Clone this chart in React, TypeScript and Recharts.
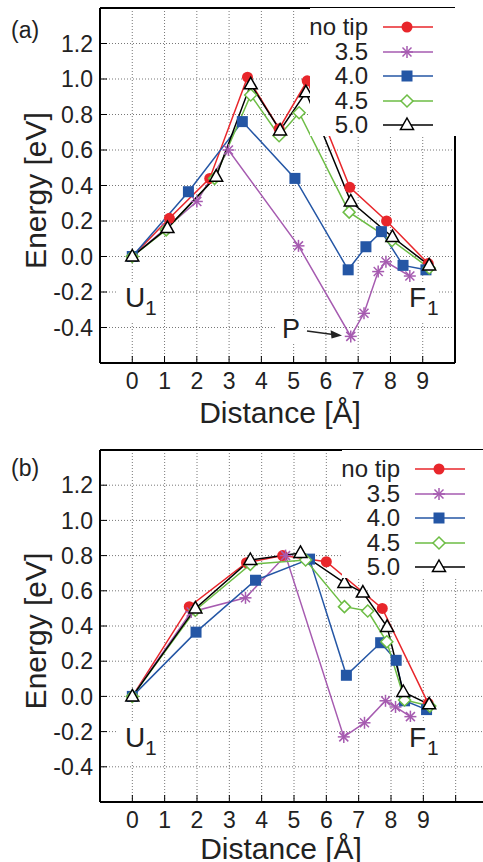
import React from 'react';
import { LineChart, Line, XAxis, YAxis, CartesianGrid, Legend, Label } from 'recharts';

const FONT = '"Liberation Sans", Arial, Helvetica, sans-serif';
const INK = '#222';

const seriesNames = ['no tip', '3.5', '4.0', '4.5', '5.0'];
const seriesColors = ['#e8262b', '#a65bb0', '#2456a5', '#6dbd45', '#000000'];
const seriesMarkers = ['circle', 'star', 'square', 'diamond', 'triangle'];

const yTicks = [-0.4, -0.2, 0, 0.2, 0.4, 0.6, 0.8, 1.0, 1.2];
const xTicksA = [0, 1, 2, 3, 4, 5, 6, 7, 8, 9];
const xTicksB = [0, 1, 2, 3, 4, 5, 6, 7, 8, 9, 10];

// panel (a)
const aNoTipX = [0, 1.15, 2.4, 3.57, 4.55, 5.42, 6.74, 7.88, 9.17];
const aNoTipY = [0, 0.215, 0.44, 1.01, 0.72, 0.99, 0.39, 0.2, -0.04];
const a35X = [0, 1.05, 2.0, 2.98, 5.15, 6.77, 7.18, 7.62, 7.86, 8.6];
const a35Y = [0, 0.16, 0.31, 0.6, 0.06, -0.45, -0.32, -0.085, -0.03, -0.11];
const a40X = [0, 1.74, 3.41, 5.04, 6.69, 7.24, 7.72, 8.39, 9.1];
const a40Y = [0, 0.365, 0.76, 0.44, -0.075, 0.055, 0.14, -0.05, -0.075];
const a45X = [0, 1.05, 2.55, 3.67, 4.55, 5.17, 6.72, 8.05, 9.2];
const a45Y = [0, 0.15, 0.44, 0.91, 0.68, 0.81, 0.25, 0.09, -0.065];
const a50X = [0, 1.09, 2.6, 3.67, 4.58, 5.38, 6.77, 8.06, 9.2];
const a50Y = [0, 0.16, 0.45, 0.97, 0.71, 0.925, 0.31, 0.11, -0.05];

// panel (b)
const bNoTipX = [0, 1.76, 3.53, 4.65, 6.0, 7.73, 9.15];
const bNoTipY = [0, 0.51, 0.76, 0.8, 0.765, 0.5, -0.04];
const b35X = [0, 1.82, 3.5, 4.74, 6.54, 7.18, 7.83, 8.14, 8.6];
const b35Y = [0, 0.48, 0.56, 0.8, -0.23, -0.15, -0.025, -0.06, -0.115];
const b40X = [0, 1.97, 3.81, 5.48, 6.62, 7.68, 8.16, 8.42, 9.1];
const b40Y = [0, 0.365, 0.66, 0.78, 0.12, 0.305, 0.205, -0.025, -0.075];
const b45X = [0, 1.95, 3.65, 5.36, 6.56, 7.28, 7.87, 8.42, 9.2];
const b45Y = [0, 0.49, 0.75, 0.775, 0.51, 0.485, 0.31, -0.02, -0.055];
const b50X = [0, 1.95, 3.65, 5.2, 6.56, 7.13, 7.88, 8.38, 9.18];
const b50Y = [0, 0.5, 0.775, 0.815, 0.645, 0.59, 0.395, 0.025, -0.045];

const toPoints = (xs: number[], ys: number[]) => xs.map((x, i) => ({ x, y: ys[i] }));

const seriesA = [
  toPoints(aNoTipX, aNoTipY),
  toPoints(a35X, a35Y),
  toPoints(a40X, a40Y),
  toPoints(a45X, a45Y),
  toPoints(a50X, a50Y),
];
const seriesB = [
  toPoints(bNoTipX, bNoTipY),
  toPoints(b35X, b35Y),
  toPoints(b40X, b40Y),
  toPoints(b45X, b45Y),
  toPoints(b50X, b50Y),
];

function Marker({ kind, color, cx, cy }: { kind: string; color: string; cx: number; cy: number }) {
  if (cx == null || cy == null) return null;
  switch (kind) {
    case 'circle':
      return <circle cx={cx} cy={cy} r={5.5} fill={color} />;
    case 'square':
      return <rect x={cx - 5.5} y={cy - 5.5} width={11} height={11} fill={color} />;
    case 'diamond':
      return (
        <path
          d={`M${cx},${cy - 6}L${cx + 6},${cy}L${cx},${cy + 6}L${cx - 6},${cy}Z`}
          fill="#fff"
          stroke={color}
          strokeWidth={1.5}
        />
      );
    case 'triangle':
      return (
        <path
          d={`M${cx},${cy - 7}L${cx + 6.5},${cy + 4.5}L${cx - 6.5},${cy + 4.5}Z`}
          fill="#fff"
          stroke={color}
          strokeWidth={1.5}
        />
      );
    default:
      return (
        <g stroke={color} strokeWidth={1.5}>
          <line x1={cx - 6} y1={cy} x2={cx + 6} y2={cy} />
          <line x1={cx} y1={cy - 6} x2={cx} y2={cy + 6} />
          <line x1={cx - 4.5} y1={cy - 4.5} x2={cx + 4.5} y2={cy + 4.5} />
          <line x1={cx - 4.5} y1={cy + 4.5} x2={cx + 4.5} y2={cy - 4.5} />
        </g>
      );
  }
}

function LegendBox() {
  return (
    <div style={{ background: '#fff', width: 146, height: 128, paddingTop: 7, boxSizing: 'border-box', fontFamily: FONT }}>
      {seriesNames.map((name, i) => (
        <div key={name} style={{ display: 'flex', alignItems: 'center', height: 24.5, whiteSpace: 'nowrap' }}>
          <span
            style={{
              width: 58,
              flexShrink: 0,
              display: 'flex',
              justifyContent: 'flex-end',
              whiteSpace: 'nowrap',
              fontSize: 24,
              lineHeight: '24px',
              color: INK,
            }}
          >
            {name}
          </span>
          <svg width={70} height={24} style={{ display: 'block', flexShrink: 0 }}>
            <line x1={15} x2={65} y1={12} y2={12} stroke={seriesColors[i]} strokeWidth={1.5} />
            <Marker kind={seriesMarkers[i]} color={seriesColors[i]} cx={39} cy={12} />
          </svg>
        </div>
      ))}
    </div>
  );
}

interface PanelProps {
  series: { x: number; y: number }[][];
  xMax: number;
  xTicks: number[];
  width: number;
  height: number;
  marginRight: number;
  legendLeft: number;
  labelX: number;
  labelDy: number;
}

const Panel: React.FC<PanelProps> = ({ series, xMax, xTicks, width, height, marginRight, legendLeft, labelX, labelDy }) => {
  const axisLine = { stroke: '#000', strokeWidth: 2 };
  const tickLine = { stroke: '#000', strokeWidth: 1 };
  const tickStyle = { fontSize: 23, fill: INK, fontFamily: FONT };
  return (
    <LineChart width={width} height={height} margin={{ top: 7, right: marginRight, bottom: 0, left: 0 }}>
      <CartesianGrid xAxisId="b" yAxisId="l" stroke="#777" strokeDasharray="1 2" />
      <XAxis
        xAxisId="b"
        type="number"
        dataKey="x"
        domain={[-1, xMax]}
        ticks={xTicks}
        interval={0}
        allowDataOverflow
        height={67}
        tickSize={-7}
        tickMargin={17}
        axisLine={axisLine}
        tickLine={tickLine}
        tick={tickStyle}
        tickFormatter={(v: number) => (v === 10 ? '' : String(v))}
      >
        <Label
          content={({ viewBox }: any) => (
            <text x={labelX} y={viewBox.y + labelDy} textAnchor="middle" fontSize={30} fontFamily={FONT} fill={INK}>
              Distance [Å]
            </text>
          )}
        />
      </XAxis>
      <XAxis
        xAxisId="t"
        orientation="top"
        type="number"
        domain={[-1, xMax]}
        ticks={xTicks}
        interval={0}
        allowDataOverflow
        height={1}
        tickSize={-7}
        tick={false}
        axisLine={axisLine}
        tickLine={tickLine}
      />
      <YAxis
        yAxisId="l"
        type="number"
        domain={[-0.6, 1.4]}
        ticks={yTicks}
        interval={0}
        allowDataOverflow
        width={100}
        tickSize={-7}
        tickMargin={14}
        axisLine={axisLine}
        tickLine={tickLine}
        tick={tickStyle}
        tickFormatter={(v: number) => v.toFixed(1)}
      >
        <Label
          content={({ viewBox }: any) => {
            const cy = viewBox.y + viewBox.height / 2 + 5;
            return (
              <text x={46} y={cy} transform={`rotate(-90 46 ${cy})`} textAnchor="middle" fontSize={30} fontFamily={FONT} fill={INK}>
                Energy [eV]
              </text>
            );
          }}
        />
      </YAxis>
      <YAxis
        yAxisId="r"
        orientation="right"
        type="number"
        domain={[-0.6, 1.4]}
        ticks={yTicks}
        interval={0}
        allowDataOverflow
        width={1}
        tickSize={-7}
        tick={false}
        axisLine={axisLine}
        tickLine={tickLine}
      />
      <Legend
        layout="vertical"
        align="center"
        verticalAlign="middle"
        content={() => <LegendBox />}
        wrapperStyle={{ top: 8, left: legendLeft, width: 146, height: 128 }}
      />
      {series.map((pts, i) => (
        <Line
          key={seriesNames[i]}
          xAxisId="b"
          yAxisId="l"
          data={pts}
          dataKey="y"
          name={seriesNames[i]}
          type="linear"
          stroke={seriesColors[i]}
          strokeWidth={1.5}
          isAnimationActive={false}
          activeDot={false}
          dot={(p: any) => (
            <Marker key={`${i}-${p.index}`} kind={seriesMarkers[i]} color={seriesColors[i]} cx={p.cx} cy={p.cy} />
          )}
        />
      ))}
    </LineChart>
  );
};

function Annotations() {
  const t = { fontFamily: FONT, fill: INK };
  const stateLabel = (x: number, y: number, letter: string) => (
    <g>
      <rect x={x - 8} y={y - 25} width={letter === 'U' ? 42 : 36} height={39} fill="#fff" />
      <text x={x} y={y} fontSize={28} {...t}>{letter}</text>
      <text x={x + (letter === 'U' ? 20 : 18)} y={y + 8} fontSize={21} {...t}>1</text>
    </g>
  );
  return (
    <svg width={483} height={862} style={{ position: 'absolute', left: 0, top: 0, pointerEvents: 'none' }}>
      <text x={11} y={38} fontSize={23} {...t}>(a)</text>
      <text x={11} y={476} fontSize={23} {...t}>(b)</text>
      {stateLabel(125, 307, 'U')}
      {stateLabel(409, 307, 'F')}
      {stateLabel(125, 747, 'U')}
      {stateLabel(409, 747, 'F')}
      <rect x={277} y={315} width={26} height={27} fill="#fff" />
      <text x={282} y={338} fontSize={27} {...t}>P</text>
      <line x1={307} y1={331} x2={333} y2={334.4} stroke={INK} strokeWidth={1.5} />
      <polygon points="342,335.5 331.5,338.6 330.6,330.3" fill={INK} />
    </svg>
  );
}

export default function App() {
  return (
    <div style={{ position: 'absolute', left: 0, top: 0, width: 483, height: 862, overflow: 'hidden', background: '#fff' }}>
      <div style={{ position: 'absolute', left: 0, top: 0 }}>
        <Panel series={seriesA} xMax={10} xTicks={xTicksA} width={483} height={430} marginRight={27} legendLeft={310} labelX={280} labelDy={60} />
      </div>
      <div style={{ position: 'absolute', left: 0, top: 442 }}>
        <Panel series={seriesB} xMax={11} xTicks={xTicksB} width={500} height={427} marginRight={11} legendLeft={342} labelX={281} labelDy={57} />
      </div>
      <Annotations />
    </div>
  );
}
